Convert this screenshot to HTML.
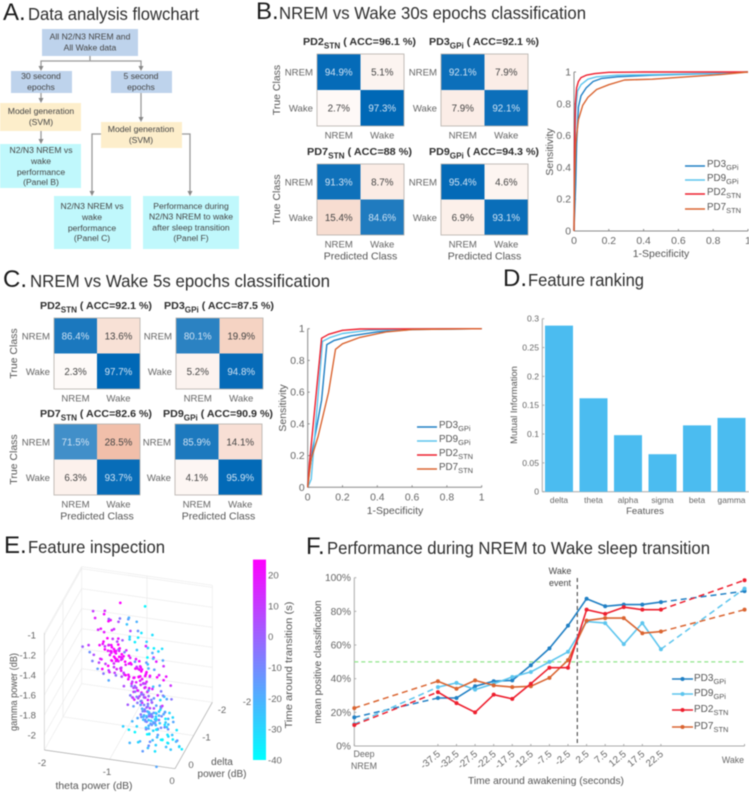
<!DOCTYPE html>
<html lang="en">
<head>
<meta charset="utf-8">
<title>Sleep classification figure</title>
<style>
html,body{margin:0;padding:0;background:#fff;width:749px;height:792px;overflow:hidden}
svg{display:block;filter:blur(0.6px)}
text{font-family:"Liberation Sans",sans-serif}
.ttl{fill:#2e2e2e;font-size:17.5px}
.big{fill:#1c1c1c;font-size:24px}
.fl{fill:#444;font-size:8.6px;text-anchor:middle}
</style>
</head>
<body>
<svg id="fig" xmlns="http://www.w3.org/2000/svg" width="749" height="792" viewBox="0 0 749 792">
  <rect width="749" height="792" fill="#fff"/>

  <text class="big" x="3" y="20">A.</text>
  <text class="ttl" x="28" y="20" textLength="171" lengthAdjust="spacingAndGlyphs">Data analysis flowchart</text>
  <text class="big" x="256" y="19">B.</text>
  <text class="ttl" x="279" y="19" textLength="307" lengthAdjust="spacingAndGlyphs">NREM vs Wake 30s epochs classification</text>
  <text class="big" x="3" y="287">C.</text>
  <text class="ttl" x="30" y="287" textLength="300" lengthAdjust="spacingAndGlyphs">NREM vs Wake 5s epochs classification</text>
  <text class="big" x="503" y="286">D.</text>
  <text class="ttl" x="528" y="286" textLength="116" lengthAdjust="spacingAndGlyphs">Feature ranking</text>
  <text class="big" x="4" y="553">E.</text>
  <text class="ttl" x="28" y="553" textLength="137" lengthAdjust="spacingAndGlyphs">Feature inspection</text>
  <text class="big" x="306" y="554">F.</text>
  <text class="ttl" x="327" y="554" textLength="383" lengthAdjust="spacingAndGlyphs">Performance during NREM to Wake sleep transition</text>

  <g>
    <g stroke="#999" stroke-width="1.3" fill="none">
      <path d="M90 56V61M41 67V61H141V67"/>
      <path d="M41 93V99"/>
      <path d="M41 131V140"/>
      <path d="M141 93V118"/>
      <path d="M101 134H92V192"/>
      <path d="M182 134H190V192"/>
    </g>
    <g fill="#888">
      <path d="M38.500 66h5l-2.500 5z"/>
      <path d="M138.500 66h5l-2.500 5z"/>
      <path d="M38.500 98h5l-2.500 5z"/>
      <path d="M38.500 139h5l-2.500 5z"/>
      <path d="M138.500 117h5l-2.500 5z"/>
      <path d="M89.500 191h5l-2.500 5z"/>
      <path d="M187.500 191h5l-2.500 5z"/>
    </g>
    <g>
      <rect x="42" y="29" width="96" height="27" fill="#bed3ec"/>
      <text class="fl" x="90" y="39.500">All N2/N3 NREM and</text>
      <text class="fl" x="90" y="50.500">All Wake data</text>
    </g>
    <g>
      <rect x="11" y="71" width="61" height="22" fill="#bed3ec"/>
      <text class="fl" x="41" y="79">30 second</text>
      <text class="fl" x="41" y="90">epochs</text>
    </g>
    <g>
      <rect x="111" y="71" width="61" height="22" fill="#bed3ec"/>
      <text class="fl" x="141" y="79">5 second</text>
      <text class="fl" x="141" y="90">epochs</text>
    </g>
    <g>
      <rect x="0" y="103" width="81" height="28" fill="#fdeecb"/>
      <text class="fl" x="41" y="114">Model generation</text>
      <text class="fl" x="41" y="125">(SVM)</text>
    </g>
    <g>
      <rect x="101" y="122" width="81" height="26" fill="#fdeecb"/>
      <text class="fl" x="141" y="132">Model generation</text>
      <text class="fl" x="141" y="143">(SVM)</text>
    </g>
    <g>
      <rect x="0" y="144" width="81" height="44" fill="#c0f8fc"/>
      <text class="fl" x="41" y="153">N2/N3 NREM vs</text>
      <text class="fl" x="41" y="164">wake</text>
      <text class="fl" x="41" y="175">performance</text>
      <text class="fl" x="41" y="185">(Panel B)</text>
    </g>
    <g>
      <rect x="54" y="196" width="77" height="53" fill="#c0f8fc"/>
      <text class="fl" x="92" y="209">N2/N3 NREM vs</text>
      <text class="fl" x="92" y="220">wake</text>
      <text class="fl" x="92" y="231">performance</text>
      <text class="fl" x="92" y="241">(Panel C)</text>
    </g>
    <g>
      <rect x="143" y="196" width="96" height="53" fill="#c0f8fc"/>
      <text class="fl" x="191" y="209">Performance during</text>
      <text class="fl" x="191" y="219.500">N2/N3 NREM to wake</text>
      <text class="fl" x="191" y="230.500">after sleep transition</text>
      <text class="fl" x="191" y="241">(Panel F)</text>
    </g>
  </g>

  <g id="panelB"></g>
  <g id="panelC"></g>
  <g id="panelD"></g>
  <g id="panelE"></g>
  <g id="panelF"></g>
</svg>

<script>
/* ---------- confusion matrix values ---------- */
const classLabels = ['NREM', 'Wake'];
const matB_PD2 = [94.9, 5.1, 2.7, 97.3];
const matB_PD3 = [92.1, 7.9, 7.9, 92.1];
const matB_PD7 = [91.3, 8.7, 15.4, 84.6];
const matB_PD9 = [95.4, 4.6, 6.9, 93.1];
const matC_PD2 = [86.4, 13.6, 2.3, 97.7];
const matC_PD3 = [80.1, 19.9, 5.2, 94.8];
const matC_PD7 = [71.5, 28.5, 6.3, 93.7];
const matC_PD9 = [85.9, 14.1, 4.1, 95.9];

/* ---------- ROC values: 30 s panel ---------- */
const rocTicks = [0, 0.2, 0.4, 0.6, 0.8, 1];
const rocNames = ['PD3', 'PD9', 'PD2', 'PD7'];
const rocSubs = ['GPi', 'GPi', 'STN', 'STN'];
const rocB_PD3_fpr = [0, 0.01, 0.015, 0.025, 0.04, 0.07, 0.11, 0.16, 0.25, 0.45, 0.8, 1];
const rocB_PD3_tpr = [0, 0.3, 0.55, 0.78, 0.85, 0.9, 0.94, 0.96, 0.97, 0.98, 0.99, 1];
const rocB_PD9_fpr = [0, 0.004, 0.01, 0.02, 0.04, 0.08, 0.13, 0.25, 0.5, 0.8, 1];
const rocB_PD9_tpr = [0, 0.4, 0.75, 0.88, 0.92, 0.955, 0.97, 0.98, 0.985, 0.992, 1];
const rocB_PD2_fpr = [0, 0.003, 0.008, 0.015, 0.025, 0.04, 0.07, 0.12, 0.2, 0.4, 1];
const rocB_PD2_tpr = [0, 0.5, 0.8, 0.9, 0.94, 0.965, 0.98, 0.99, 0.998, 1, 1];
const rocB_PD7_fpr = [0, 0.003, 0.01, 0.025, 0.05, 0.08, 0.13, 0.2, 0.29, 0.45, 0.65, 0.85, 1];
const rocB_PD7_tpr = [0, 0.3, 0.55, 0.7, 0.79, 0.84, 0.89, 0.92, 0.95, 0.955, 0.97, 0.985, 1];

/* ---------- ROC values: 5 s panel ---------- */
const rocC_PD3_fpr = [0, 0.01, 0.03, 0.08, 0.11, 0.15, 0.25, 0.4, 0.6, 1];
const rocC_PD3_tpr = [0, 0.1, 0.25, 0.55, 0.9, 0.925, 0.955, 0.98, 0.995, 1];
const rocC_PD9_fpr = [0, 0.02, 0.085, 0.13, 0.2, 0.35, 0.6, 1];
const rocC_PD9_tpr = [0, 0.05, 0.92, 0.945, 0.97, 0.99, 0.998, 1];
const rocC_PD2_fpr = [0, 0.01, 0.08, 0.12, 0.2, 0.3, 1];
const rocC_PD2_tpr = [0, 0.15, 0.94, 0.965, 0.99, 0.998, 1];
const rocC_PD7_fpr = [0, 0.02, 0.06, 0.12, 0.16, 0.2, 0.3, 0.45, 0.6, 1];
const rocC_PD7_tpr = [0, 0.18, 0.32, 0.6, 0.87, 0.905, 0.945, 0.98, 0.995, 1];

/* ---------- feature ranking ---------- */
const featureNames = ['delta', 'theta', 'alpha', 'sigma', 'beta', 'gamma'];
const featureMI = [0.288, 0.162, 0.098, 0.065, 0.115, 0.128];
const featureTicks = [0, 0.05, 0.1, 0.15, 0.2, 0.25, 0.3];

/* ---------- transition performance ---------- */
const transitionTimes = [-60, -37.5, -32.5, -27.5, -22.5, -17.5, -12.5, -7.5, -2.5, 2.5, 7.5, 12.5, 17.5, 22.5, 45];
const transitionPD3 = [17, 28.5, 28.5, 35.5, 38.5, 39, 48, 58, 71.5, 87.5, 83, 84, 84, 85.5, 92];
const transitionPD9 = [13, 35, 37.5, 33.5, 37, 41, 44, 50, 56, 74, 73, 60.5, 73, 57.5, 93.5];
const transitionPD2 = [12.5, 32, 25.5, 20, 30.5, 28, 37, 46.5, 46.5, 81, 78.5, 82.5, 81, 81, 98.5];
const transitionPD7 = [22.5, 38.5, 34, 39, 36, 35, 35.5, 40.5, 51, 74.5, 76, 76, 67, 68, 81];
const percentTicks = [0, 20, 40, 60, 80, 100];

/* ---------- 3-D feature scatter ---------- */
const colorbarTicks = [20, 10, 0, -10, -20, -30, -40];
const thetaTicks = [-2, -1, 0];
const deltaTicks = [-2, -1, 0];
const gammaTicks = [-1, -1.2, -1.4, -1.6, -1.8, -2];
const scatterTheta = [
-1.54,-1.48,-1.40,-1.36,-1.30,-1.27,-1.22,-1.18,-1.15,-1.10,-1.05,-1.00,-0.95,-0.90,-0.85,-0.80,
-1.70,-1.62,-1.58,-1.55,-1.52,-1.50,-1.47,-1.45,-1.44,-1.42,-1.40,-1.38,-1.36,-1.33,-1.30,-1.28,
-1.42,-1.40,-1.38,-1.36,-1.35,-1.33,-1.31,-1.30,-1.28,-1.27,-1.25,-1.24,-1.23,-1.22,-1.21,-1.20,
-1.19,-1.18,-1.17,-1.16,-1.15,-1.14,-1.13,-1.12,-1.11,-1.10,-1.09,-1.08,-1.06,-1.05,-1.03,-1.01,
-1.06,-1.04,-1.02,-1.00,-0.98,-0.97,-0.95,-0.94,-0.92,-0.91,-0.90,-0.88,-0.87,-0.86,-0.84,-0.83,
-0.82,-0.81,-0.80,-0.79,-0.78,-0.77,-0.76,-0.75,-0.74,-0.73,-0.72,-0.71,-0.70,-0.69,-0.68,-0.66,
-0.70,-0.66,-0.64,-0.62,-0.60,-0.58,-0.56,-0.54,-0.52,-0.50,-0.48,-0.46,-0.44,-0.42,-0.38,-0.34,
-0.98,-0.95,-0.93,-0.91,-0.89,-0.87,-0.85,-0.83,-0.81,-0.80,-0.78,-0.76,-0.75,-0.73,-0.72,-0.71,
-0.70,-0.69,-0.68,-0.67,-0.66,-0.65,-0.64,-0.63,-0.62,-0.61,-0.60,-0.59,-0.58,-0.57,-0.56,-0.55,
-0.54,-0.53,-0.52,-0.51,-0.50,-0.49,-0.48,-0.47,-0.46,-0.45,-0.44,-0.43,-0.42,-0.41,-0.39,-0.37,
-1.08,-1.02,-0.95,-0.90,-0.85,-0.82,-0.78,-0.74,-0.70,-0.66,-0.62,-0.58,-0.54,-0.50,-0.45,-0.40,
-0.36,-0.34,-0.32,-0.30,-0.28,-0.26,-0.25,-0.24,-0.22,-0.21,-0.50,-0.60,-0.42,-0.55,-0.47,-0.38,
-1.41,-1.37,-1.34,-1.32,-1.29,-1.26,-1.24,-1.21,-1.19,-1.16,-1.13,-1.11,-1.08,-1.07,-1.04,-1.02,
-1.00,-0.97,-0.94,-0.92,-0.89,-0.87,-0.85,-0.84,-0.81,-0.79,-0.77,-0.75,-0.73,-0.71,-0.69,-0.67,
-0.80,-0.77,-0.74,-0.72,-0.71,-0.70,-0.69,-0.68,-0.67,-0.66,-0.65,-0.64,-0.63,-0.62,-0.60,-0.58,
-1.30,-1.28,-1.26,-1.25,-1.23,-1.22,-1.20,-1.19,-1.18,-1.17,-1.16,-1.15,-1.14,-1.12,-1.10,-1.08,
-0.96,-0.94,-0.92,-0.90,-0.88,-0.87,-0.86,-0.85,-0.83,-0.82,-0.80,-0.79,-0.77,-0.76,-0.74,-0.72,
-0.92,-0.90,-0.88,-0.86,-0.84,-0.82,-0.80,-0.78,-0.76,-0.74,-0.72,-0.70,-0.68,-0.66,-0.64,-0.62,
-0.72,-0.68,-0.64,-0.60,-0.56,-0.52,-0.48,-0.44,-0.40,-0.36,-0.32,-0.60,-0.55,-0.50,-0.46,-0.44,
-0.78,-0.76,-0.73,-0.71,-0.69,-0.67,-0.65,-0.64,-0.62,-0.61,-0.59,-0.58,-0.56,-0.55,-0.53,-0.52,
-1.02,-0.98,-0.94,-0.90,-0.88,-0.84,-0.80,-0.76,-0.72,-0.68,-0.66,-0.62,-0.58,-0.54,-0.50,-0.46];
const scatterGamma = [
-1.05,-1.08,-1.10,-1.03,-1.15,-1.07,-1.20,-1.00,-1.12,-1.05,-1.17,-1.08,-1.22,-1.13,-1.25,-1.00,
-1.42,-1.50,-1.36,-1.55,-1.30,-1.45,-1.62,-1.25,-1.38,-1.52,-1.28,-1.66,-1.20,-1.35,-1.72,-1.25,
-1.40,-1.48,-1.34,-1.44,-1.56,-1.38,-1.50,-1.62,-1.42,-1.33,-1.52,-1.46,-1.39,-1.58,-1.36,-1.49,
-1.44,-1.55,-1.32,-1.48,-1.62,-1.41,-1.53,-1.36,-1.47,-1.66,-1.30,-1.57,-1.43,-1.51,-1.38,-1.60,
-1.64,-1.72,-1.56,-1.68,-1.78,-1.60,-1.72,-1.54,-1.66,-1.82,-1.58,-1.70,-1.76,-1.52,-1.64,-1.85,
-1.60,-1.72,-1.80,-1.66,-1.56,-1.76,-1.84,-1.62,-1.70,-1.88,-1.58,-1.78,-1.66,-1.90,-1.74,-1.62,
-1.34,-1.42,-1.58,-1.72,-1.50,-1.80,-1.62,-1.40,-1.70,-1.56,-1.84,-1.64,-1.76,-1.60,-1.72,-1.82,
-1.90,-1.98,-1.86,-2.06,-1.94,-2.14,-1.88,-2.02,-1.92,-2.10,-1.98,-1.86,-2.06,-2.14,-1.94,-2.02,
-1.90,-2.00,-2.10,-1.94,-2.06,-2.16,-1.88,-2.02,-2.12,-1.96,-2.08,-2.18,-1.90,-2.04,-1.98,-2.14,
-1.88,-2.00,-2.10,-1.94,-2.18,-2.04,-1.90,-2.12,-1.98,-2.20,-1.86,-2.06,-2.16,-1.92,-2.02,-1.96,
-2.16,-2.22,-2.28,-2.20,-2.32,-2.26,-2.38,-2.24,-2.34,-2.28,-2.40,-2.30,-2.48,-2.24,-2.34,-2.26,
-2.16,-2.08,-2.22,-2.14,-2.26,-2.12,-2.32,-2.20,-2.28,-2.34,-2.12,-2.22,-2.30,-1.80,-1.72,-2.36,
-1.52,-1.58,-1.46,-1.30,-1.40,-1.60,-1.30,-1.42,-1.66,-1.38,-1.70,-1.58,-1.46,-1.68,-1.54,-1.48,
-1.50,-1.84,-1.48,-1.76,-1.64,-1.46,-1.78,-1.58,-1.92,-1.50,-1.66,-1.96,-1.54,-1.70,-1.82,-1.50,
-2.04,-2.10,-2.00,-2.08,-2.04,-2.12,-2.06,-2.02,-2.14,-2.08,-2.00,-2.12,-2.06,-2.16,-2.02,-2.10,
-1.46,-1.54,-1.44,-1.58,-1.48,-1.40,-1.54,-1.44,-1.60,-1.50,-1.42,-1.56,-1.47,-1.52,-1.44,-1.54,
-1.62,-1.70,-1.60,-1.74,-1.62,-1.68,-1.56,-1.72,-1.62,-1.68,-1.74,-1.60,-1.70,-1.64,-1.78,-1.68,
-1.80,-1.88,-1.84,-1.78,-1.92,-1.82,-1.88,-1.78,-1.92,-1.84,-1.80,-1.86,-1.94,-1.78,-1.88,-1.82,
-2.18,-2.20,-2.24,-2.18,-2.22,-2.16,-2.24,-2.14,-2.18,-2.04,-2.00,-1.94,-1.98,-1.92,-2.06,-1.96,
-1.98,-2.02,-1.96,-2.04,-1.98,-2.06,-1.96,-2.02,-2.08,-1.98,-2.04,-1.98,-2.08,-2.02,-1.96,-2.04,
-1.10,-1.28,-1.16,-1.30,-1.22,-1.34,-1.20,-1.36,-1.28,-1.40,-1.24,-1.44,-1.30,-1.36,-1.48,-1.50];
const scatterDelta = [
-1.0,-0.9,-1.1,-1.0,-1.1,-0.9,-1.0,-1.2,-1.0,-0.9,-1.1,-1.0,-0.9,-1.1,-1.0,-1.2,
-1.0,-1.1,-0.9,-1.0,-1.2,-0.9,-1.0,-1.1,-1.0,-0.9,-1.1,-1.0,-1.2,-0.9,-1.0,-1.1,
-1.1,-0.9,-1.0,-1.2,-1.0,-0.9,-1.1,-1.0,-1.1,-0.9,-1.0,-1.1,-0.9,-1.0,-1.2,-1.0,
-0.9,-1.1,-1.0,-0.9,-1.1,-1.0,-1.2,-0.9,-1.0,-1.1,-1.0,-0.9,-1.1,-1.0,-0.9,-1.2,
-1.0,-0.9,-1.1,-1.0,-1.1,-0.9,-1.0,-1.2,-1.0,-0.9,-1.1,-1.0,-0.9,-1.1,-1.0,-1.1,
-1.1,-1.0,-0.9,-1.0,-1.2,-0.9,-1.0,-1.1,-1.0,-0.9,-1.1,-1.0,-1.1,-0.9,-1.0,-1.2,
-1.0,-1.1,-0.9,-1.0,-1.1,-0.9,-1.0,-1.2,-1.0,-0.9,-1.1,-1.0,-0.9,-1.0,-1.1,-1.0,
-0.9,-1.1,-1.0,-0.9,-1.1,-1.0,-1.2,-0.9,-1.0,-1.1,-1.0,-0.9,-1.1,-1.0,-0.9,-1.1,
-1.0,-0.9,-1.1,-1.0,-1.1,-0.9,-1.0,-1.0,-1.1,-0.9,-1.0,-1.1,-0.9,-1.0,-1.2,-1.0,
-1.1,-1.0,-0.9,-1.0,-1.2,-0.9,-1.0,-1.1,-1.0,-0.9,-1.1,-1.0,-1.1,-0.9,-1.0,-1.0,
-1.0,-1.1,-0.9,-1.0,-1.1,-0.9,-1.0,-1.1,-1.0,-0.9,-1.1,-1.0,-0.9,-1.0,-1.1,-1.0,
-0.9,-1.1,-1.0,-0.9,-1.1,-1.0,-1.1,-0.9,-1.0,-1.1,-1.0,-0.9,-1.1,-1.0,-0.9,-1.1,
-1.0,-0.9,-1.1,-1.0,-1.1,-0.9,-1.0,-1.2,-1.0,-0.9,-1.1,-1.0,-0.9,-1.1,-1.0,-1.1,
-1.1,-1.0,-0.9,-1.0,-1.2,-0.9,-1.0,-1.1,-1.0,-0.9,-1.1,-1.0,-1.1,-0.9,-1.0,-1.2,
-1.0,-1.1,-0.9,-1.0,-1.1,-0.9,-1.0,-1.0,-1.1,-0.9,-1.0,-1.1,-0.9,-1.0,-1.1,-1.0,
-1.1,-0.9,-1.0,-1.1,-0.9,-1.0,-1.1,-1.0,-0.9,-1.0,-1.1,-0.9,-1.0,-1.1,-1.0,-0.9,
-0.9,-1.0,-1.1,-1.0,-0.9,-1.1,-1.0,-0.9,-1.1,-1.0,-1.1,-0.9,-1.0,-1.1,-0.9,-1.0,
-1.0,-1.1,-0.9,-1.0,-1.1,-0.9,-1.0,-1.1,-0.9,-1.0,-1.1,-1.0,-0.9,-1.1,-1.0,-0.9,
-1.1,-1.0,-0.9,-1.1,-1.0,-0.9,-1.0,-1.1,-1.0,-0.9,-1.0,-1.1,-0.9,-1.0,-1.1,-1.0,
-0.9,-1.0,-1.1,-0.9,-1.0,-1.1,-0.9,-1.0,-1.1,-1.0,-0.9,-1.0,-1.1,-0.9,-1.0,-1.1,
-1.1,-1.0,-0.9,-1.0,-1.1,-0.9,-1.0,-1.1,-1.0,-0.9,-1.1,-1.0,-0.9,-1.0,-1.1,-1.0];
const scatterTime = [
10,18,22,15,20,-2,12,25,5,-5,-25,-15,-30,-20,-35,-38,
0,-12,10,-8,15,5,-15,20,22,8,18,-5,25,12,-18,16,
20,15,24,22,10,25,18,8,23,16,21,25,14,12,19,24,
25,17,6,23,13,20,24,-3,18,9,2,21,14,25,-8,16,
12,5,18,22,-6,24,15,20,25,3,10,19,-10,23,16,-4,
24,14,6,21,-12,18,-2,25,10,-8,-22,16,12,4,20,-16,
-30,-20,22,-25,18,-12,25,-32,-15,16,-28,21,-8,20,12,-5,
2,-15,10,-22,-5,-30,-8,-18,18,-25,-12,14,-33,-28,-2,-20,
-6,-16,-28,8,-35,-22,-10,-20,-12,-30,-3,-25,5,-38,-14,-18,
-30,-24,-15,-36,-9,-27,12,-33,-20,-38,-18,-26,-12,-35,-22,-30,
-28,-35,-22,-38,-20,-30,-15,-40,-25,-12,-33,-28,-18,-36,-24,-39,
-30,-18,-36,-25,-12,-33,-38,-22,-28,-35,-10,-24,-32,14,-6,-26,
18,24,20,25,22,15,11,25,-4,23,7,20,17,24,19,22,
16,-6,25,8,21,-14,2,24,-18,20,25,-10,-24,13,-2,18,
-14,-8,-20,-4,-16,-10,-26,-2,-12,-22,-6,-18,-14,-30,-8,-24,
22,25,20,14,24,25,18,21,10,25,23,16,24,19,25,12,
20,10,24,-2,22,25,15,6,25,18,-6,23,12,21,2,16,
8,-10,14,20,-14,5,-6,17,-20,10,-12,18,-16,15,2,-8,
-20,-32,-12,-36,-24,-16,-38,-28,-34,-22,-30,-18,-26,-8,-36,-14,
-4,-20,-10,-14,-24,-6,-18,-2,-28,-12,-16,-30,-8,-22,-26,-10,
-20,-30,5,-36,-12,-25,-34,15,-28,-38,-32,-22,-36,-30,-18,12];

/* ---------- helpers ---------- */
const NS = 'http://www.w3.org/2000/svg';
const GRAY = '#666';
const AXIS = '#8a8a8a';
const C_PD3 = '#1f7fc4';
const C_PD9 = '#5cc5ee';
const C_PD2 = '#ee1f2e';
const C_PD7 = '#da6430';

function mk(parent, tag, attrs) {
  const el = document.createElementNS(NS, tag);
  for (const k in attrs) el.setAttribute(k, attrs[k]);
  
  parent.appendChild(el);
  return el;
}
function label(parent, x, y, str, size, fill, anchor, rot) {
  const el = mk(parent, 'text', {x: x, y: y, 'font-size': size, fill: fill, 'text-anchor': anchor || 'start'});
  if (rot) el.setAttribute('transform', 'rotate(' + rot + ' ' + x + ' ' + y + ')');
  el.textContent = str;
  return el;
}
function sub(el, str, dy, size, weight) {
  const t = document.createElementNS(NS, 'tspan');
  t.setAttribute('dy', dy);
  if (size) t.setAttribute('font-size', size);
  if (weight) t.setAttribute('font-weight', weight);
  t.textContent = str;
  el.appendChild(t);
  return t;
}
function mix(c, t) {
  const v = c.map(ch => Math.round(255 + (ch - 255) * Math.min(1, t)));
  return 'rgb(' + v.join(',') + ')';
}
function polyline(parent, xs, ys, sx, sy, color, width, dash) {
  let pts = '';
  xs.forEach((v, i) => { pts += sx(v).toFixed(1) + ',' + sy(ys[i]).toFixed(1) + ' '; });
  const el = mk(parent, 'polyline', {points: pts, fill: 'none', stroke: color, 'stroke-width': width, 'stroke-linejoin': 'round'});
  if (dash) el.setAttribute('stroke-dasharray', dash);
  return el;
}

/* ---------- confusion matrices ---------- */
function drawMatrix(parent, name, subName, acc, values, box) {
  const g = mk(parent, 'g', {});
  
  const w = box.w / 2, h = box.h / 2;
  const title = label(g, box.tx, box.ty, '', 10.5, '#2d2d2d');
  
  title.setAttribute('font-weight', 'bold');
  title.setAttribute('textLength', box.tw);
  title.setAttribute('lengthAdjust', 'spacingAndGlyphs');
  sub(title, name, 0);
  sub(title, subName, 3.5, 8);
  sub(title, ' ( ACC=' + acc + ' %)', -3.5);
  values.forEach((v, i) => {
    const r = Math.floor(i / 2), c = i % 2;
    const diag = r === c;
    const fill = diag ? mix([0, 104, 182], v / 100 + 0.03) : mix([217, 83, 25], v / 100 * 1.3);
    const cell = mk(g, 'rect', {x: box.x + c * w, y: box.y + r * h, width: w, height: h, fill: fill});
    
    const t = label(g, box.x + c * w + w / 2, box.y + r * h + h / 2 + 3.500, v + '%', 9.8, diag ? '#cfe2f3' : '#444', 'middle');
    
  });
  const frame = mk(g, 'rect', {x: box.x, y: box.y, width: box.w, height: box.h, fill: 'none', stroke: '#b5b0aa', 'stroke-width': 0.8});
  
  classLabels.forEach((lab, i) => {
    const ry = label(g, box.x - 4, box.y + h * i + h / 2 + 3.500, lab, 9.6, GRAY, 'end');
    
    const cx = label(g, box.x + w * i + w / 2, box.y + box.h + 12.5, lab, 9.6, GRAY, 'middle');
    
  });
  if (box.ylabel) {
    const yl = label(g, box.x - 37, box.y + box.h / 2, 'True Class', 10.5, '#555', 'middle', -90);
    
  }
  if (box.xlabel) {
    const xl = label(g, box.x + box.w / 2, box.y + box.h + 24.500, 'Predicted Class', 10.5, '#555', 'middle');
    
  }
}
const pB = document.getElementById('panelB');
const pC = document.getElementById('panelC');
drawMatrix(pB, 'PD2', 'STN', '96.1', matB_PD2, {x: 317, y: 54, w: 87, h: 72, tx: 303, ty: 45, tw: 113, ylabel: 1});
drawMatrix(pB, 'PD3', 'GPi', '92.1', matB_PD3, {x: 441, y: 54, w: 87, h: 72, tx: 429, ty: 45, tw: 110});
drawMatrix(pB, 'PD7', 'STN', '88', matB_PD7, {x: 317, y: 164, w: 87, h: 71, tx: 307, ty: 155, tw: 105, ylabel: 1, xlabel: 1});
drawMatrix(pB, 'PD9', 'GPi', '94.3', matB_PD9, {x: 441, y: 164, w: 87, h: 71, tx: 429, ty: 155, tw: 110, xlabel: 1});
drawMatrix(pC, 'PD2', 'STN', '92.1', matC_PD2, {x: 54, y: 318, w: 86, h: 71, tx: 40, ty: 309, tw: 112, ylabel: 1});
drawMatrix(pC, 'PD3', 'GPi', '87.5', matC_PD3, {x: 176, y: 318, w: 87, h: 71, tx: 164, ty: 309, tw: 110});
drawMatrix(pC, 'PD7', 'STN', '82.6', matC_PD7, {x: 54, y: 424, w: 86, h: 71, tx: 40, ty: 417, tw: 112, ylabel: 1, xlabel: 1});
drawMatrix(pC, 'PD9', 'GPi', '90.9', matC_PD9, {x: 175, y: 424, w: 87, h: 71, tx: 163, ty: 417, tw: 110, xlabel: 1});

/* ---------- ROC plots ---------- */
function drawRoc(parent, box, curves) {
  const g = mk(parent, 'g', {});
  
  const sx = v => box.x0 + v * (box.x1 - box.x0);
  const sy = v => box.y0 + v * (box.y1 - box.y0);
  const yAxis = mk(g, 'line', {x1: sx(0), x2: sx(0), y1: sy(0), y2: sy(1), stroke: AXIS, 'stroke-width': 1});
  
  const xAxis = mk(g, 'line', {x1: sx(0), x2: sx(1), y1: sy(0), y2: sy(0), stroke: AXIS, 'stroke-width': 1});
  
  rocTicks.forEach(v => {
    const tx = mk(g, 'line', {x1: sx(v), x2: sx(v), y1: sy(0), y2: sy(0) - 2, stroke: AXIS});
    
    const ty = mk(g, 'line', {x1: sx(0), x2: sx(0) + 2, y1: sy(v), y2: sy(v), stroke: AXIS});
    
    const lx = label(g, sx(v), sy(0) + 13, String(v), 10.4, GRAY, 'middle');
    
    const ly = label(g, sx(0) - 3, sy(v) + 3.500, String(v), 10.4, GRAY, 'end');
    
  });
  const xt = label(g, box.xlx, box.xly, '1-Specificity', 10.5, '#555', 'middle');
  
  const yt = label(g, box.ylx, box.yly, 'Sensitivity', 10.5, '#555', 'middle', -90);
  
  const colors = [C_PD3, C_PD9, C_PD2, C_PD7];
  curves.forEach((c, i) => {
    const line = polyline(g, c[0], c[1], sx, sy, colors[i], 1.4);
    
  });
  rocNames.forEach((n, i) => {
    const ly = box.ly[i];
    const sw = mk(g, 'line', {x1: box.lx, x2: box.lx + 20, y1: ly, y2: ly, stroke: colors[i], 'stroke-width': 1.6});
    
    const t = label(g, box.lx + 22, ly + 1, '', 9.8, '#555');
    
    sub(t, n, 0);
    sub(t, rocSubs[i], 3, 7.5);
  });
}
drawRoc(pB, {x0: 574, x1: 748, y0: 231, y1: 72, xlx: 661, xly: 257, ylx: 553, yly: 152, lx: 685, ly: [166, 180, 194, 209]}, [
  [rocB_PD3_fpr, rocB_PD3_tpr], [rocB_PD9_fpr, rocB_PD9_tpr], [rocB_PD2_fpr, rocB_PD2_tpr], [rocB_PD7_fpr, rocB_PD7_tpr]
]);
drawRoc(pC, {x0: 307.7, x1: 481.7, y0: 487.3, y1: 328.7, xlx: 395, xly: 514, ylx: 286, yly: 408, lx: 417, ly: [427, 441, 455, 469]}, [
  [rocC_PD3_fpr, rocC_PD3_tpr], [rocC_PD9_fpr, rocC_PD9_tpr], [rocC_PD2_fpr, rocC_PD2_tpr], [rocC_PD7_fpr, rocC_PD7_tpr]
]);

/* ---------- Panel D bars ---------- */
(function () {
  const g = document.getElementById('panelD');
  const yS = v => 491.7 - v * (173 / 0.3);
  const xS = i => 559 + i * 34.5;
  const yAxis = mk(g, 'line', {x1: 542.3, x2: 542.3, y1: yS(0), y2: yS(0.3), stroke: '#aaa'});
  
  const xAxis = mk(g, 'line', {x1: 542.3, x2: 749, y1: yS(0), y2: yS(0), stroke: '#aaa'});
  
  featureTicks.forEach(v => {
    const t = mk(g, 'line', {x1: 542.3, x2: 544.3, y1: yS(v), y2: yS(v), stroke: '#aaa'});
    
    const l = label(g, 539, yS(v) + 3, String(v), 8.6, GRAY, 'end');
    
  });
  featureMI.forEach((v, i) => {
    const b = mk(g, 'rect', {x: xS(i) - 14, y: yS(v), width: 28, height: yS(0) - yS(v), fill: '#4bbcf0'});
    
    const l = label(g, xS(i), 503, featureNames[i], 8.4, GRAY, 'middle');
    
  });
  const xt = label(g, 645, 514, 'Features', 9.6, '#555', 'middle');
  
  const yt = label(g, 517, 405, 'Mutual Information', 9.4, '#555', 'middle', -90);
  
})();

/* ---------- Panel E 3-D scatter ---------- */
(function () {
  const g = document.getElementById('panelE');
  const gMin = -2.15, gMax = -0.98;
  const px = (th, de, ga) => (133 + 196 * (th + 2) + 56 * (-de)) / 3;
  const py = (th, de, ga) => (530 * 3 + 660 + 28 * (th + 2) - 99.5 * (-de) - 300 * (ga - gMin)) / 3;
  const seg = (a, b, color, name) => {
    const l = mk(g, 'line', {x1: px(...a), y1: py(...a), x2: px(...b), y2: py(...b), stroke: color, 'stroke-width': 0.7});
    
    return l;
  };
  const GRID = '#ebebeb';
  gammaTicks.forEach(v => {
    seg([-2, 0, v], [-2, -2, v], GRID, 'left-wall-gridline');
    seg([-2, -2, v], [0, -2, v], GRID, 'back-wall-gridline');
  });
  seg([-1, -2, gMin], [-1, -2, gMax], GRID, 'back-wall-gridline');
  seg([-2, -1, gMin], [-2, -1, gMax], GRID, 'left-wall-gridline');
  seg([-1, 0, gMin], [-1, -2, gMin], GRID, 'floor-gridline');
  seg([-2, -1, gMin], [0, -1, gMin], GRID, 'floor-gridline');
  seg([-2, -2, gMin], [-2, -2, gMax], GRID, 'box-edge');
  seg([0, -2, gMin], [0, -2, gMax], GRID, 'box-edge');
  seg([-2, -2, gMax], [0, -2, gMax], GRID, 'box-edge');
  seg([-2, 0, gMax], [-2, -2, gMax], GRID, 'box-edge');
  seg([-2, -2, gMin], [0, -2, gMin], GRID, 'box-edge');
  seg([-2, 0, gMin], [-2, -2, gMin], GRID, 'box-edge');
  seg([-2, 0, gMin], [0, 0, gMin], '#aaa', 'theta-axis');
  seg([0, 0, gMin], [0, -2, gMin], '#aaa', 'delta-axis');
  seg([-2, 0, gMin], [-2, 0, gMax], '#ccc', 'gamma-axis');

  thetaTicks.forEach((v, i) => {
    const l = label(g, 42 + i * 65, 766 + i * 9, String(v), 9.6, GRAY, 'middle');
    
  });
  deltaTicks.forEach((v, i) => {
    const l = label(g, 222 - i * 15.5, 713 + i * 27.500, String(v), 9.6, GRAY, 'middle');
    
  });
  gammaTicks.forEach(v => {
    const l = label(g, 36, 530 + (660 - 300 * (v - gMin)) / 3 + 3.500, String(v), 9.6, GRAY, 'end');
    
  });

  const colorOf = t => {
    const f = Math.max(0, Math.min(1, (t + 40) / 65));
    return 'rgb(' + Math.round(255 * f) + ',' + Math.round(255 * (1 - f)) + ',255)';
  };
  scatterTheta.forEach((th, i) => {
    const d = mk(g, 'circle', {cx: px(th, scatterDelta[i], scatterGamma[i]).toFixed(1), cy: py(th, scatterDelta[i], scatterGamma[i]).toFixed(1), r: 1.35, fill: colorOf(scatterTime[i])});
    
  });

  const yl = label(g, 17, 692, 'gamma power (dB)', 9.8, '#555', 'middle', -90);
  
  yl.setAttribute('textLength', 78);
  yl.setAttribute('lengthAdjust', 'spacingAndGlyphs');
  const xl = label(g, 94, 789, 'theta power (dB)', 10, '#555', 'middle');
  
  xl.setAttribute('textLength', 77);
  xl.setAttribute('lengthAdjust', 'spacingAndGlyphs');
  const dl1 = label(g, 222, 765, 'delta', 10, '#555', 'middle');
  
  const dl2 = label(g, 222, 777, 'power (dB)', 10, '#555', 'middle');
  
  const stray = label(g, 247, 705, '-2', 9.6, GRAY, 'middle');
  

  const defs = mk(g, 'defs', {});
  const grad = mk(defs, 'linearGradient', {id: 'coolGrad', x1: 0, y1: 1, x2: 0, y2: 0});
  const s0 = mk(grad, 'stop', {offset: 0, 'stop-color': '#00ffff'});
  const s1 = mk(grad, 'stop', {offset: 1, 'stop-color': '#ff00ff'});
  const cyS = t => 760 - (t + 40) * (185 / 60);
  const bar = mk(g, 'rect', {x: 253, y: cyS(25), width: 13, height: cyS(-40) - cyS(25), fill: 'url(#coolGrad)'});
  
  colorbarTicks.forEach(t => {
    const l = label(g, 268, cyS(t) + 3.500, String(t), 9.6, GRAY);
    
  });
  const cbt = label(g, 292, 665, 'Time around transition (s)', 10.5, '#555', 'middle', -90);
  
  cbt.setAttribute('textLength', 127);
  cbt.setAttribute('lengthAdjust', 'spacingAndGlyphs');
})();

/* ---------- Panel F transition lines ---------- */
(function () {
  const g = document.getElementById('panelF');
  const sx = t => 577.3 + t * (55.75 / 15);
  const sy = p => 746 - p * 1.683;
  const yAxis = mk(g, 'line', {x1: sx(-60), x2: sx(-60), y1: sy(0), y2: sy(100), stroke: '#aaa'});
  
  const xAxis = mk(g, 'line', {x1: sx(-60), x2: sx(45), y1: sy(0), y2: sy(0), stroke: '#aaa'});
  
  percentTicks.forEach(p => {
    const t = mk(g, 'line', {x1: sx(-60), x2: sx(-60) + 2, y1: sy(p), y2: sy(p), stroke: '#aaa'});
    
    const l = label(g, 351, sy(p) + 3.500, p + '%', 10.2, GRAY, 'end');
    
  });
  transitionTimes.forEach((t, i) => {
    const tk = mk(g, 'line', {x1: sx(t), x2: sx(t), y1: sy(0), y2: sy(0) - 2, stroke: '#aaa'});
    
    if (i > 0 && i < transitionTimes.length - 1) {
      const l = label(g, sx(t) + 3, 755, String(t), 9.8, GRAY, 'end', -40);
      
    }
  });
  const deep = label(g, 364, 757, 'Deep', 8.8, GRAY, 'middle');
  
  const nrem = label(g, 364, 769, 'NREM', 8.8, GRAY, 'middle');
  
  const wake = label(g, 733, 763, 'Wake', 8.8, GRAY, 'middle');
  
  const xt = label(g, 546, 784, 'Time around awakening (seconds)', 10.2, '#555', 'middle');
  
  const yt = label(g, 321, 662, 'mean positive classification', 10.2, '#555', 'middle', -90);
  

  const chance = mk(g, 'line', {x1: sx(-60), x2: sx(45), y1: sy(50), y2: sy(50), stroke: '#8fe58a', 'stroke-width': 1.2, 'stroke-dasharray': '4 3'});
  
  const wakeLine = mk(g, 'line', {x1: sx(0), x2: sx(0), y1: 578, y2: sy(0), stroke: '#333', 'stroke-width': 1, 'stroke-dasharray': '4 3'});
  
  const w1 = label(g, 560, 574, 'Wake', 9, '#444', 'middle');
  
  const w2 = label(g, 560, 586, 'event', 9, '#444', 'middle');
  

  const series = [transitionPD3, transitionPD9, transitionPD7, transitionPD2];
  const colors = [C_PD3, C_PD9, C_PD7, C_PD2];
  const n = transitionTimes.length;
  series.forEach((vals, s) => {
    const solid = polyline(g, transitionTimes.slice(1, n - 1), vals.slice(1, n - 1), sx, sy, colors[s], 1.6);
    
    const d1 = polyline(g, transitionTimes.slice(0, 2), vals.slice(0, 2), sx, sy, colors[s], 1.5, '6 4');
    
    const d2 = polyline(g, transitionTimes.slice(n - 2), vals.slice(n - 2), sx, sy, colors[s], 1.5, '6 4');
    
    vals.forEach((v, i) => {
      const c = mk(g, 'circle', {cx: sx(transitionTimes[i]), cy: sy(v), r: 2, fill: colors[s]});
      
    });
  });

  const legendColors = [C_PD3, C_PD9, C_PD2, C_PD7];
  const legendY = [679, 694, 710, 727];
  rocNames.forEach((nm, i) => {
    const ln = mk(g, 'line', {x1: 672, x2: 693, y1: legendY[i], y2: legendY[i], stroke: legendColors[i], 'stroke-width': 1.6});
    
    const dot = mk(g, 'circle', {cx: 682.500, cy: legendY[i], r: 2, fill: legendColors[i]});
    
    const t = label(g, 694, legendY[i] + 2, '', 10, '#555');
    
    sub(t, nm, 0);
    sub(t, rocSubs[i], 3, 7.5);
  });
})();
</script>
</body>
</html>
